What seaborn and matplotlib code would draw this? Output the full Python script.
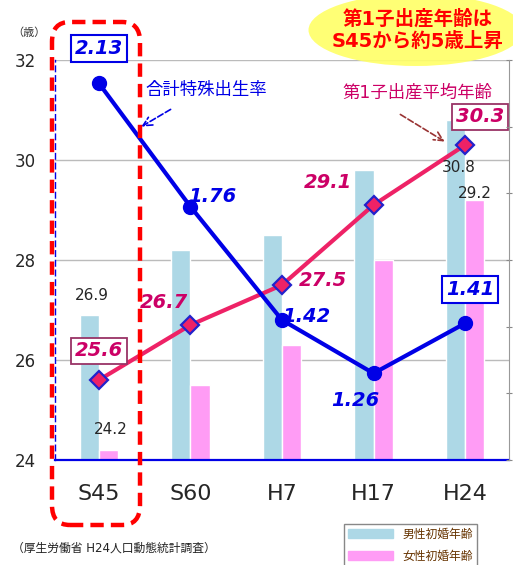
import numpy as np
import pandas as pd
import matplotlib
matplotlib.use("Agg")
import matplotlib.pyplot as plt
import seaborn as sns
from matplotlib.patches import FancyBboxPatch, Ellipse, Patch

# data
years = ["S45", "S60", "H7", "H17", "H24"]
male_age = [26.9, 28.2, 28.5, 29.8, 30.8]      # 男性初婚年齢
female_age = [24.2, 25.5, 26.3, 28.0, 29.2]    # 女性初婚年齢
first_birth_age = [25.6, 26.7, 27.5, 29.1, 30.3]  # 第1子出産平均年齢
tfr = [2.13, 1.76, 1.42, 1.26, 1.41]           # 合計特殊出生率

sns.set_style("white")
plt.rcParams['font.family'] = ['DejaVu Sans', 'Noto Sans CJK JP']

W, H = 513, 565
fig = plt.figure(figsize=(W / 100, H / 100), dpi=100)

def fx(px):
    return px / W

def fy(py):
    return 1 - py / H

ax = fig.add_axes([fx(55), fy(460), (509 - 55) / W, 400 / H])

blue = "#0000e6"
pink_line = "#ee2266"
pink_txt = "#cc0066"
c_male = "#add8e6"
c_female = "#ff9cf5"

bars = pd.DataFrame({
    "year": years * 2,
    "age": male_age + female_age,
    "sex": ["男性初婚年齢"] * 5 + ["女性初婚年齢"] * 5,
})
sns.barplot(data=bars, x="year", y="age", hue="sex",
            palette=[c_male, c_female], width=0.42, ax=ax,
            legend=False, saturation=1, zorder=2)

x = np.arange(len(years))
ax.plot(x, first_birth_age, color=pink_line, lw=3, marker="D", ms=9,
        mfc=pink_line, mec="#2222cc", mew=1.6, zorder=4)

ax.set_ylim(24, 32)
ax.set_xlim(-0.48, 4.48)
ax.set_yticks([24, 26, 28, 30, 32])
ax.set_xlabel("")
ax.set_ylabel("")
ax.grid(axis="y", color="#bbbbbb", lw=1, zorder=0)
ax.set_axisbelow(True)
ax.tick_params(axis="x", length=0, pad=17, labelsize=16)
ax.tick_params(axis="y", length=0, pad=14, labelsize=12)
for s in ["top", "right"]:
    ax.spines[s].set_visible(False)
ax.spines["bottom"].set_color(blue)
ax.spines["bottom"].set_linewidth(1.6)
ax.spines["left"].set_color(blue)
ax.spines["left"].set_linestyle((0, (4, 3)))
ax.spines["left"].set_linewidth(1)

ax2 = ax.twinx()
ax2.plot(x, tfr, color=blue, lw=3, marker="o", ms=10, zorder=5)
ax2.set_ylim(1.0, 2.2)
ax2.set_yticks(np.arange(1.0, 2.21, 0.2))
ax2.set_yticklabels([])
ax2.tick_params(axis="y", length=4, color="#888888", direction="inout")
for s in ["top", "left", "bottom"]:
    ax2.spines[s].set_visible(False)
ax2.spines["right"].set_color("#999999")

# value labels: total fertility rate
tfr_off = [(0, 35), (22, 10), (24, 4), (-18, -27), (5, 34)]
for i, (v, off) in enumerate(zip(tfr, tfr_off)):
    box = None
    if i in (0, 4):
        box = dict(boxstyle="square,pad=0.2", fc="white", ec=blue, lw=1.5)
    ax2.annotate(f"{v:.2f}", xy=(i, v), xytext=off, textcoords="offset pixels",
                 ha="center", va="center", color=blue, fontsize=14,
                 fontweight="bold", fontstyle="italic", bbox=box, zorder=6)

# value labels: first birth age
fb_off = [(0, 29), (-26, 23), (41, 4), (-46, 22), (15, 28)]
for i, (v, off) in enumerate(zip(first_birth_age, fb_off)):
    box = None
    if i in (0, 4):
        box = dict(boxstyle="square,pad=0.2", fc="white", ec="#993366", lw=1.3)
    ax.annotate(f"{v:.1f}", xy=(i, v), xytext=off, textcoords="offset pixels",
                ha="center", va="center", color=pink_txt, fontsize=14,
                fontweight="bold", fontstyle="italic", bbox=box, zorder=6)

# bar labels (S45 and H24)
bw = 0.21
ax.annotate(f"{male_age[0]}", xy=(0 - bw / 2, male_age[0]), xytext=(3, 19),
            textcoords="offset pixels", ha="center", va="center", fontsize=11, zorder=6)
ax.annotate(f"{female_age[0]}", xy=(0 + bw / 2, female_age[0]), xytext=(2, 20),
            textcoords="offset pixels", ha="center", va="center", fontsize=11, zorder=6)
ax.annotate(f"{male_age[4]}", xy=(4 - bw / 2, male_age[4]), xytext=(3, -47),
            textcoords="offset pixels", ha="center", va="center", fontsize=11, zorder=6)
ax.annotate(f"{female_age[4]}", xy=(4 + bw / 2, female_age[4]), xytext=(0, 6),
            textcoords="offset pixels", ha="center", va="center", fontsize=11, zorder=6)

# series name callouts
fig.text(fx(145), fy(90), "合計特殊出生率", color=blue, fontsize=12.5,
         ha="left", va="center")
ax.annotate("", xy=(fx(139), fy(128)), xycoords="figure fraction",
            xytext=(fx(173), fy(108)), textcoords="figure fraction",
            arrowprops=dict(arrowstyle="->", color=blue, lw=1.2, ls="--",
                            mutation_scale=16))
fig.text(fx(417), fy(93), "第1子出産平均年齢", color=pink_txt, fontsize=12.5,
         ha="center", va="center")
ax.annotate("", xy=(fx(447), fy(143)), xycoords="figure fraction",
            xytext=(fx(398), fy(113)), textcoords="figure fraction",
            arrowprops=dict(arrowstyle="->", color="#993333", lw=1.2, ls="--",
                            mutation_scale=16))

# yellow note
ell = Ellipse((fx(416), fy(30)), 215 / W, 72 / H, transform=fig.transFigure,
              fc="#ffff66", ec="none", alpha=0.9, zorder=0)
fig.patches.append(ell)
fig.text(fx(418), fy(30), "第1子出産年齢は\nS45から約5歳上昇", color="#ff0000",
         fontsize=14, fontweight="bold", ha="center", va="center",
         linespacing=1.2)

# red dashed highlight around S45
hl = FancyBboxPatch((fx(52), fy(525)), (140 - 52) / W, (525 - 22) / H,
                    boxstyle="round,pad=0,rounding_size=0.035",
                    transform=fig.transFigure, fill=False, ec="#ff0000",
                    lw=3.2, ls=(0, (3, 1.6)), zorder=10)
fig.patches.append(hl)

fig.text(fx(12), fy(33), "（歳）", fontsize=8, color="#333333", ha="left", va="center")
fig.text(fx(12), fy(548), "（厚生労働省 H24人口動態統計調査）", fontsize=8.5,
         color="#222222", ha="left", va="center")

handles = [Patch(color=c_male, label="男性初婚年齢"),
           Patch(color=c_female, label="女性初婚年齢")]
leg = fig.legend(handles=handles, loc="upper left",
                 bbox_to_anchor=(fx(338), fy(518)), bbox_transform=fig.transFigure,
                 fancybox=False, edgecolor="#888888", fontsize=8.5,
                 handlelength=3.8, handleheight=0.8, borderpad=0.35,
                 labelspacing=0.75, framealpha=1)
for t in leg.get_texts():
    t.set_color("#663300")

fig.savefig("out.png", dpi=100)
